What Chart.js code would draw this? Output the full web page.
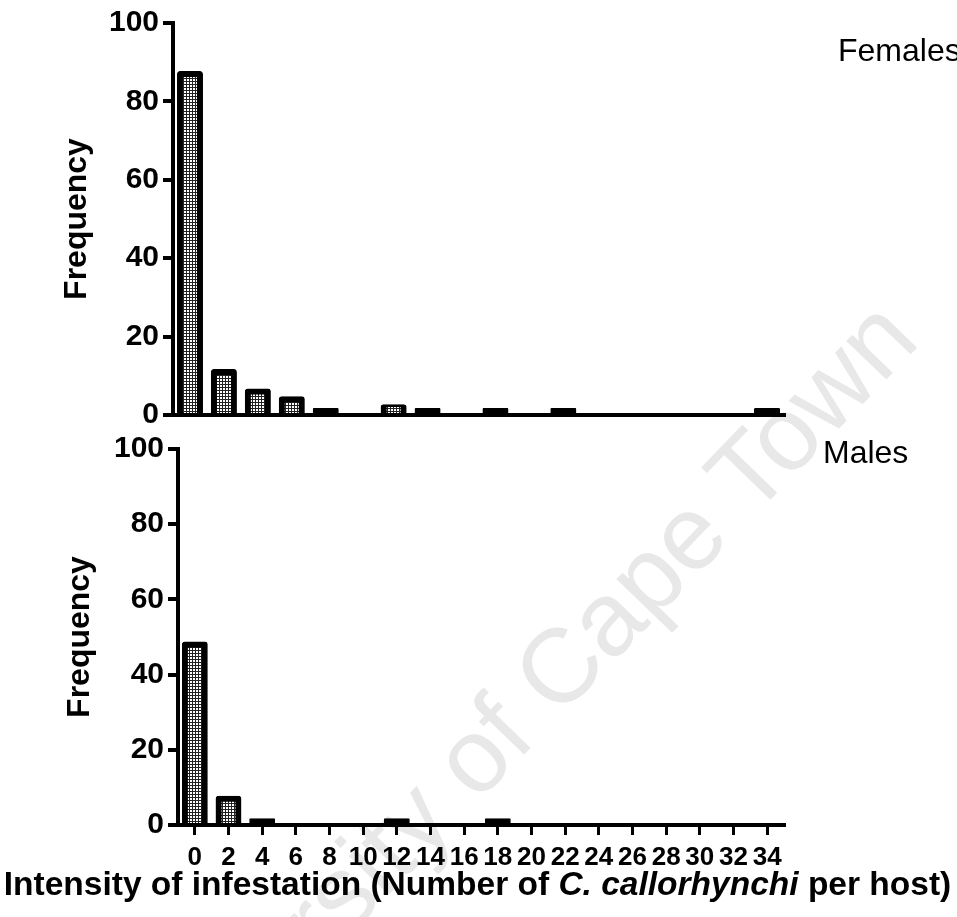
<!DOCTYPE html>
<html>
<head>
<meta charset="utf-8">
<script src="https://cdn.jsdelivr.net/npm/chart.js@4.4.0/dist/chart.umd.min.js"></script>
<style>
  html, body { margin: 0; padding: 0; background: #fff; }
  body {
    width: 957px; height: 917px; position: relative; overflow: hidden;
    font-family: "Liberation Sans", Arial, sans-serif;
  }
  canvas { position: absolute; left: 0; }
  #femaleChart { top: 0; }
  #maleChart { top: 425px; }
  .panel-label {
    position: absolute; font-size: 32px; line-height: 1; color: #000; white-space: nowrap;
  }
  #xTitle {
    position: absolute; left: 0; width: 955px; top: 867px; text-align: center;
    font-weight: bold; font-size: 33.5px; line-height: 1; color: #000; white-space: nowrap;
  }
  #watermark {
    position: absolute; left: 503px; top: 724px; transform: translate(-50%, -50%) rotate(-46deg);
    font-size: 105px; line-height: 1; color: #e8e8e8; white-space: nowrap;
  }
</style>
</head>
<body>
<div id="watermark">University of Cape Town</div>
<canvas id="femaleChart" width="957" height="448"></canvas>
<canvas id="maleChart" width="957" height="492"></canvas>
<div class="panel-label" style="left:838px; top:34px;">Females</div>
<div class="panel-label" style="left:823px; top:436px;">Males</div>
<div id="xTitle">Intensity of infestation (Number of <i>C. callorhynchi</i> per host)</div>

<script>
// Number of parasites per host (x categories)
const intensity = ['0', '2', '4', '6', '8', '10', '12', '14', '16', '18', '20', '22', '24', '26', '28', '30', '32', '34'];
// Frequency of hosts
const females = [87, 11, 6, 4, 1, 0, 2, 1, 0, 1, 0, 1, 0, 0, 0, 0, 0, 1];
const males = [48, 7, 1, 0, 0, 0, 1, 0, 0, 1, 0, 0, 0, 0, 0, 0, 0, 0];
const yTicks = [0, 20, 40, 60, 80, 100];

const FONT = '"Liberation Sans", Arial, sans-serif';
Chart.defaults.font.family = FONT;
Chart.defaults.color = '#000';

// dotted grey fill like the original
function makePattern(ctx) {
  const c = document.createElement('canvas');
  c.width = 3;
  c.height = 3;
  const g = c.getContext('2d');
  g.fillStyle = '#fff';
  g.fillRect(0, 0, 3, 3);
  g.fillStyle = '#222';
  g.fillRect(0, 0, 3, 1);
  g.fillRect(0, 0, 1, 3);
  return ctx.createPattern(c, 'repeat');
}

function makeChart(id, values, frame) {
  const canvas = document.getElementById(id);
  const ctx = canvas.getContext('2d');
  const pattern = makePattern(ctx);

  return new Chart(ctx, {
    type: 'bar',
    data: {
      labels: intensity,
      datasets: [{
        data: values,
        backgroundColor: c => {
          const v = c.raw;
          if (!v) return 'rgba(0,0,0,0)';
          return v <= 1 ? '#000' : pattern;
        },
        borderColor: '#000',
        borderWidth: 6,
        borderRadius: 3,
        inflateAmount: 3,
        barPercentage: 0.59,
        categoryPercentage: 1
      }]
    },
    options: {
      responsive: false,
      animation: false,
      events: [],
      layout: {
        padding: {
          left: 0,
          top: frame.top,
          right: canvas.width - frame.right,
          bottom: canvas.height - frame.bottom - frame.xHeight
        }
      },
      plugins: {
        legend: { display: false },
        tooltip: { enabled: false }
      },
      scales: {
        x: {
          offset: true,
          grid: {
            display: frame.xTicks,
            drawOnChartArea: false,
            offset: false,
            tickLength: 10,
            lineWidth: 3,
            color: '#000'
          },
          border: { display: true, color: '#000', width: 4 },
          ticks: {
            display: frame.xTicks,
            autoSkip: false,
            maxRotation: 0,
            padding: 7,
            color: '#000',
            font: { size: 26, weight: 'bold' }
          },
          afterFit: s => { s.height = frame.xHeight; }
        },
        y: {
          min: yTicks[0],
          max: yTicks[yTicks.length - 1],
          ticks: {
            stepSize: yTicks[1] - yTicks[0],
            padding: 4,
            color: '#000',
            font: { size: 30, weight: 'bold' }
          },
          grid: {
            drawOnChartArea: false,
            tickLength: 10,
            lineWidth: 4,
            color: '#000'
          },
          border: { color: '#000', width: 4 },
          title: {
            display: true,
            text: 'Frequency',
            color: '#000',
            font: { size: 32, weight: 'bold' },
            padding: { top: frame.titlePad, bottom: 0 }
          },
          afterFit: s => { s.width = frame.left; }
        }
      }
    }
  });
}

// Females chart
makeChart('femaleChart', females, {
  left: 173, top: 23, right: 784, bottom: 415, xHeight: 0, xTicks: false, titlePad: 58
});

// Males chart
makeChart('maleChart', males, {
  left: 178, top: 24, right: 784, bottom: 400, xHeight: 50, xTicks: true, titlePad: 61
});
</script>
</body>
</html>
